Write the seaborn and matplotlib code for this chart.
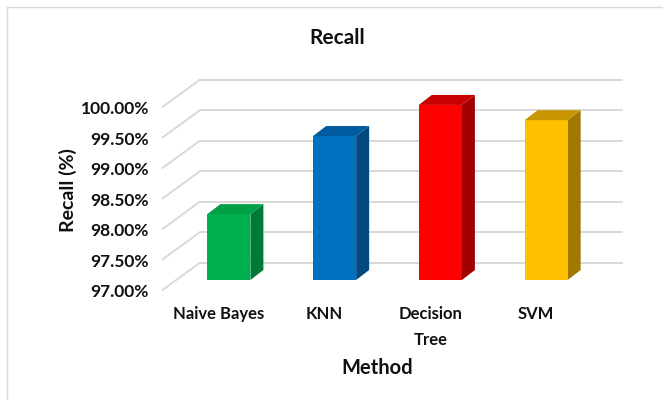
import matplotlib
matplotlib.use("Agg")
import matplotlib.pyplot as plt
from matplotlib.patches import Polygon
from matplotlib.lines import Line2D
from matplotlib.transforms import ScaledTranslation
import pandas as pd
import seaborn as sns

# ---- data -------------------------------------------------------------
methods = ["Naive Bayes", "KNN", "Decision\nTree", "SVM"]
recall = [98.08, 99.36, 99.87, 99.62]
front_colors = ["#00B050", "#0070C0", "#FF0000", "#FFC000"]
top_colors = ["#00A046", "#005A9E", "#C80000", "#C79600"]
side_colors = ["#007A36", "#004A80", "#A00000", "#A07800"]
y_ticks = [97.0, 97.5, 98.0, 98.5, 99.0, 99.5, 100.0]

sns.set_style("white")
plt.rcParams["font.family"] = ["Lato", "DejaVu Sans"]

W, H, DPI = 663, 400, 100
fig = plt.figure(figsize=(W / DPI, H / DPI), dpi=DPI)

# axes box = front plane of the bars (pixel extents)
ax_l, ax_r, ax_t, ax_b = 176, 599, 97, 280
ax = fig.add_axes([ax_l / W, 1 - ax_b / H, (ax_r - ax_l) / W, (ax_b - ax_t) / H])

df = pd.DataFrame({"Method": methods, "Recall": recall})
sns.barplot(data=df, x="Method", y="Recall", hue="Method", palette=front_colors,
            saturation=1, width=0.407, legend=False, ax=ax, zorder=3,
            edgecolor="none")
ax.set_xlim(-0.5, 3.5)
ax.set_ylim(y_ticks[0], y_ticks[-1])

# pixel -> data conversion for the oblique depth effect
px_x = (ax_r - ax_l) / 4.0
px_y = (ax_b - ax_t) / (y_ticks[-1] - y_ticks[0])


def depth(dx_px, dy_px):
    return dx_px / px_x, -dy_px / px_y


bar_d = depth(13, -10)      # depth of each bar
back_d = depth(23.5, -17)   # back wall relative to bar plane
floor_d = depth(-13.5, 10)  # front edge of the floor

grid_kw = dict(color="#d9d9d9", lw=1.4, zorder=1, clip_on=False)
x0, x1 = ax.get_xlim()
for v in y_ticks:
    ax.add_line(Line2D([x0 + back_d[0], x1 + back_d[0]],
                       [v + back_d[1], v + back_d[1]], **grid_kw))
    ax.add_line(Line2D([x0 + floor_d[0], x0 + back_d[0]],
                       [v + floor_d[1], v + back_d[1]], **grid_kw))

# side and top faces of each bar
base = y_ticks[0]
bars = sorted(ax.patches, key=lambda p: p.get_x())
for p, tc, sc in zip(bars, top_colors, side_colors):
    bx, bw, top = p.get_x(), p.get_width(), p.get_height()
    dx, dy = bar_d
    side = Polygon([(bx + bw, base), (bx + bw + dx, base + dy),
                    (bx + bw + dx, top + dy), (bx + bw, top)],
                   closed=True, facecolor=sc, edgecolor="none", zorder=2,
                   clip_on=False)
    cap = Polygon([(bx, top), (bx + bw, top), (bx + bw + dx, top + dy),
                   (bx + dx, top + dy)],
                  closed=True, facecolor=tc, edgecolor="none", zorder=4,
                  clip_on=False)
    ax.add_patch(side)
    ax.add_patch(cap)

for s in ax.spines.values():
    s.set_visible(False)

ax.set_yticks(y_ticks)
ax.set_yticklabels([f"{v:.2f}%" for v in y_ticks])
ax.tick_params(axis="y", length=0, pad=9.7, labelsize=12.5)
ax.tick_params(axis="x", length=0, pad=18.5, labelsize=12)
for lab in ax.get_yticklabels():
    lab.set_fontweight("bold")
    lab.set_color("#111111")
    lab.set_transform(lab.get_transform() +
                      ScaledTranslation(-13.5 / DPI, -11 / DPI, fig.dpi_scale_trans))
for lab in ax.get_xticklabels():
    lab.set_fontweight("bold")
    lab.set_color("#111111")
    lab.set_linespacing(1.8)
    lab.set_transform(lab.get_transform() +
                      ScaledTranslation(-10 / DPI, 0, fig.dpi_scale_trans))
ax.set_xlabel("")
ax.set_ylabel("")

fig.text(337 / W, 1 - 38 / H, "Recall", ha="center", va="center",
         fontsize=15, fontweight="bold", color="#111111")
fig.text(377 / W, 1 - 368 / H, "Method", ha="center", va="center",
         fontsize=14.5, fontweight="bold", color="#111111")
fig.text(68 / W, 1 - 190 / H, "Recall (%)", ha="center", va="center",
         rotation=90, fontsize=14, fontweight="bold", color="#111111")

# thin chart-area frame along the top and left edges
fig.add_artist(Line2D([6.5 / W, 1], [1 - 7 / H, 1 - 7 / H],
                      transform=fig.transFigure, color="#d9d9d9", lw=1))
fig.add_artist(Line2D([6.5 / W, 6.5 / W], [0, 1 - 7 / H],
                      transform=fig.transFigure, color="#d9d9d9", lw=1))

fig.savefig("out.png", dpi=DPI, facecolor="white")
